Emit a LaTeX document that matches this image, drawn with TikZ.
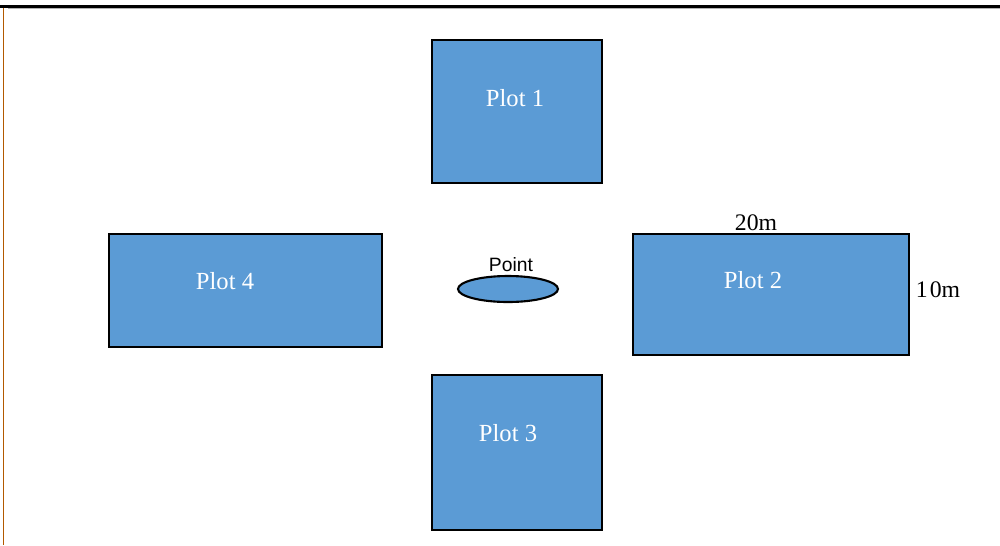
\documentclass[tikz,border=0pt]{standalone}
\usepackage{fontspec}
\setmainfont{Liberation Serif}
\newfontfamily\labelsans{Liberation Sans}
\definecolor{plotblue}{HTML}{5B9BD5}
\tikzset{
  plotbox/.style={draw=black, fill=plotblue, line width=1.2pt},
  plotlabel/.style={text=white, font=\fontsize{14}{16}\selectfont},
  sizelabel/.style={text=black, font=\fontsize{13.5}{16}\selectfont}
}
\begin{document}
\begin{tikzpicture}[x=0.02cm, y=-0.02cm]
                \useasboundingbox (0,0) rectangle (1000,545);
                % page edges
                \draw [line width=1.2pt] (0,6.5) -- (1000,6.5) ;
                \draw [gray!60, line width=0.4pt] (8,8.5) -- (1000,8.5) ;
                \draw [orange!70!black, line width=0.4pt] (3.5,8) -- (3.5,545) ;
                % plots
                \draw [plotbox] (432,40) rectangle (602,183) ;
                \draw [plotbox] (633,234) rectangle (909,355) ;
                \draw [plotbox] (432,375) rectangle (602,530) ;
                \draw [plotbox] (109,234) rectangle (382,347) ;
                \node [plotlabel] (lab1) at (515,98) {Plot 1} ;
                \node [plotlabel] (lab2) at (753,280) {Plot 2} ;
                \node [plotlabel] (lab3) at (508,433) {Plot 3} ;
                \node [plotlabel] (lab4) at (225,281) {Plot 4} ;
                % sizes
                \node [sizelabel] (len) at (756,223) {20m} ;
                \node [sizelabel] (wid) at (938,290) {1\kern1.2pt0m} ;
                % centre point
                \draw [plotbox] (508,289) ellipse (1cm and 0.26cm) ;
                \node [font=\labelsans\fontsize{11}{13}\selectfont] (pt) at (511,265) {Point} ;
            \end{tikzpicture}
\end{document}
